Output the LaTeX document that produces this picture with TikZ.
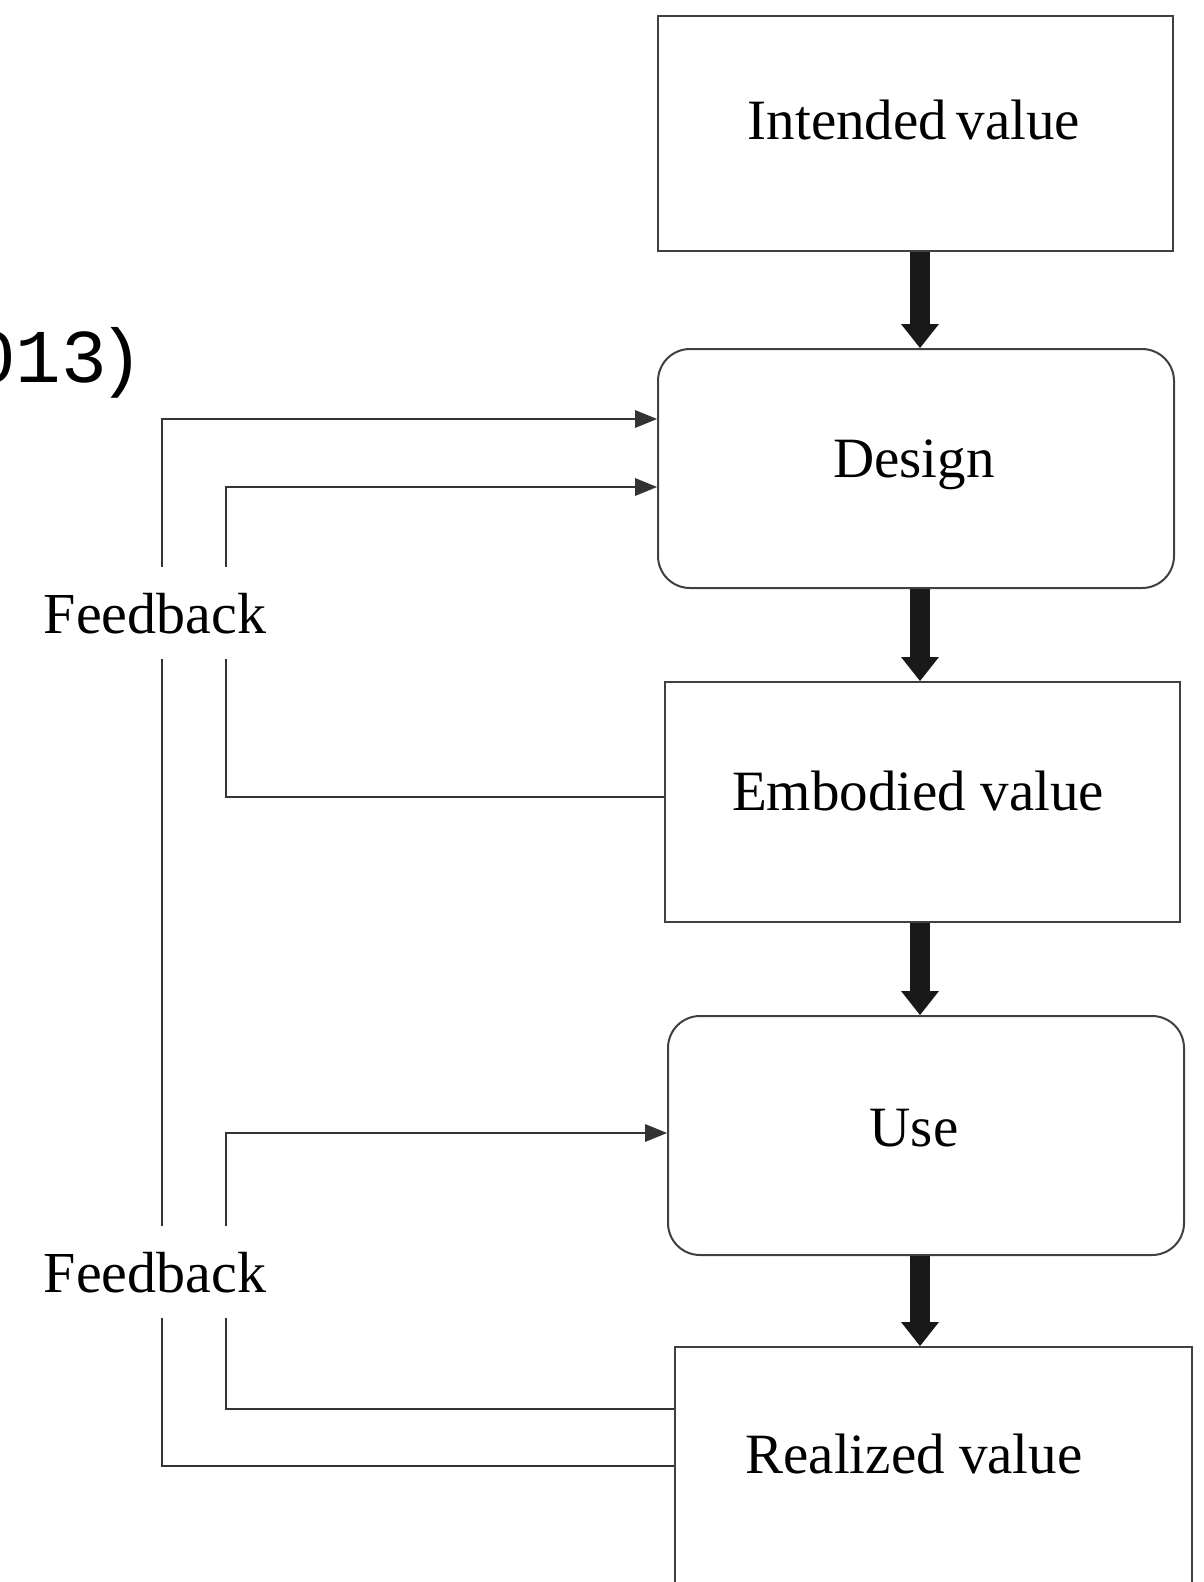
\documentclass[tikz,border=0pt]{standalone}
\usepackage{fontspec}
\setmainfont{Liberation Serif}
\newfontfamily\monof{Liberation Mono}
\usetikzlibrary{arrows.meta}
\begin{document}
\begin{tikzpicture}[x=1pt,y=-1pt,
  box/.style={draw=black!75, line width=2pt, anchor=north west, inner sep=0pt},
  rbox/.style={box, rounded corners=32pt},
  lbl/.style={font=\fontsize{57}{60}\selectfont, anchor=base, inner sep=0pt},
  fblbl/.style={font=\fontsize{58}{60}\selectfont, anchor=base, fill=white, text height=40pt, text depth=0pt, inner ysep=26pt, inner xsep=4pt},
  bigarrow/.style={line width=20pt, black!90, -{Triangle[width=38pt,length=24pt,line width=0pt]}},
  fb/.style={line width=2pt, black!80},
  fbarrow/.style={fb, -{Triangle[width=18pt,length=22pt,line width=0pt]}}
]
\useasboundingbox (0,0) rectangle (1203,1582);
\fill[white] (0,0) rectangle (1203,1582);

% source fragment
\node[font=\monof\fontsize{76}{80}\selectfont, anchor=base west, inner sep=0pt] (src) at (-30,382) {013\kern-9pt)};

% boxes
\node[box, minimum width=515pt, minimum height=235pt] (int) at (657,15) {};
\node[rbox, minimum width=516pt, minimum height=239pt] (des) at (657,348) {};
\node[box, minimum width=515pt, minimum height=240pt] (emb) at (664,681) {};
\node[rbox, minimum width=516pt, minimum height=239pt] (use) at (667,1015) {};
\node[box, minimum width=517pt, minimum height=300pt] (rea) at (674,1346) {};

% labels
\node[lbl] (tint) at (914,139) {Intended\,value};
\node[lbl] (tdes) at (914,477) {Design};
\node[lbl] (temb) at (918,810) {Embodied value};
\node[lbl] (tuse) at (914,1146) {Use};
\node[lbl] (trea) at (914,1473) {Realized value};

% main flow arrows
\draw[bigarrow] (int.south -| 920,0) -- (des.north -| 920,0);
\draw[bigarrow] (des.south -| 920,0) -- (emb.north -| 920,0);
\draw[bigarrow] (emb.south -| 920,0) -- (use.north -| 920,0);
\draw[bigarrow] (use.south -| 920,0) -- (rea.north -| 920,0);

% feedback connectors
\coordinate (o1) at (162,1466);
\coordinate (o2) at (162,419);
\draw[fbarrow] (rea.west |- o1) -- (o1) -- (o2) -- (des.west |- o2);
\coordinate (i1) at (226,797);
\coordinate (i2) at (226,487);
\draw[fbarrow] (emb.west |- i1) -- (i1) -- (i2) -- (des.west |- i2);
\coordinate (j1) at (226,1409);
\coordinate (j2) at (226,1133);
\draw[fbarrow] (rea.west |- j1) -- (j1) -- (j2) -- (use.west |- j2);

% feedback labels
\node[fblbl] (fb1) at (155,633) {Feedback};
\node[fblbl] (fb2) at (155,1292) {Feedback};
\end{tikzpicture}
\end{document}
